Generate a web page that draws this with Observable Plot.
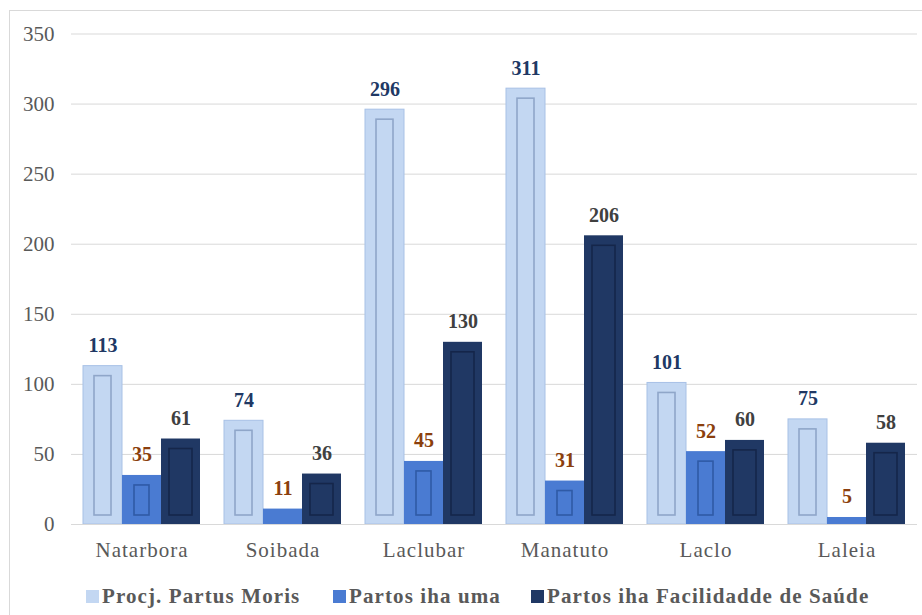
<!DOCTYPE html>
<html>
<head>
<meta charset="utf-8">
<script src="https://cdn.jsdelivr.net/npm/d3@7"></script>
<script src="https://cdn.jsdelivr.net/npm/@observablehq/plot@0.6"></script>
<style>
  html, body { margin: 0; padding: 0; background: #fff; width: 922px; height: 615px; overflow: hidden; }
  #frame { position: absolute; left: 9px; top: 10px; width: 940px; height: 640px; border: 1px solid #d9d9d9; box-sizing: border-box; }
  #chart { position: absolute; left: 0; top: 0; }
  .leg { position: absolute; top: 584px; font-family: 'Liberation Serif', serif; font-weight: bold; font-size: 21px; letter-spacing: 1.1px; color: #595959; white-space: nowrap; display: flex; align-items: center; }
  .sw { width: 13px; height: 13px; display: inline-block; margin-right: 3px; }
</style>
</head>
<body>
<div id="frame"></div>
<div id="chart"></div>
<div id="legend"></div>
<script>
const categories = ["Natarbora", "Soibada", "Laclubar", "Manatuto", "Laclo", "Laleia"];
const seriesNames = ["Procj. Partus Moris", "Partos iha uma", "Partos iha Facilidadde de Saúde"];
const procjPartusMoris = [113, 74, 296, 311, 101, 75];
const partosIhaUma = [35, 11, 45, 31, 52, 5];
const partosIhaFacilidade = [61, 36, 130, 206, 60, 58];
const yTicks = [0, 50, 100, 150, 200, 250, 300, 350];

const FONT = "'Liberation Serif', serif";
const barColors = ["#c3d7f2", "#4a7bd2", "#203864"];
const innerStroke = ["#8fa6c9", "#2f5aa6", "#15264a"];
const innerInset = [11, 12, 8];
const labelColors = ["#203864", "#8b3f0d", "#404040"];

const seriesValues = [procjPartusMoris, partosIhaUma, partosIhaFacilidade];
const rows = [];
seriesNames.forEach((s, si) => {
  categories.forEach((c, ci) => rows.push({cat: c, series: s, si, value: seriesValues[si][ci]}));
});

const marks = [];
seriesNames.forEach((s, si) => {
  const d = rows.filter(r => r.si === si);
  marks.push(Plot.barY(d, {fx: "cat", x: "series", y: "value", fill: barColors[si],
    stroke: si === 0 ? "#a8c1e6" : "none", strokeWidth: 1}));
  marks.push(Plot.barY(d.filter(r => r.value >= 20), {fx: "cat", x: "series", y: "value",
    fill: "none", stroke: innerStroke[si], strokeWidth: 1.6,
    insetLeft: innerInset[si], insetRight: innerInset[si], insetTop: 10, insetBottom: 9}));
  marks.push(Plot.text(d, {fx: "cat", x: "series", y: "value", text: r => String(r.value),
    fill: labelColors[si], fontWeight: "bold", fontSize: 20, fontFamily: FONT, lineAnchor: "bottom", dy: -14}));
});
marks.push(Plot.ruleY([0], {stroke: "#d9d9d9"}));

const chart = Plot.plot({
  width: 922,
  height: 572,
  marginLeft: 71,
  marginRight: 5,
  marginTop: 33.5,
  marginBottom: 48,
  style: {fontFamily: FONT, fontSize: "21px", color: "#595959", background: "transparent"},
  fx: {domain: categories, padding: 0, label: null, tickSize: 0, tickPadding: 18, axis: "bottom"},
  x: {domain: seriesNames, axis: null, paddingInner: 0, paddingOuter: 0.265},
  y: {domain: [0, 350], ticks: yTicks, grid: true, label: null, tickSize: 0, tickPadding: 17},
  marks
});
chart.querySelectorAll("[aria-label='fx-axis tick label'] text, [aria-label='fx-axis'] text").forEach(t => t.setAttribute("letter-spacing", "1"));
chart.querySelectorAll("[aria-label='y-grid'] line, [aria-label='y-axis grid'] line").forEach(l => { l.setAttribute("stroke", "#d9d9d9"); l.setAttribute("stroke-opacity", "1"); });
document.getElementById("chart").appendChild(chart);

const legendLeft = [86, 333, 531];
const leg = document.getElementById("legend");
seriesNames.forEach((s, i) => {
  const item = document.createElement("div");
  item.className = "leg";
  item.style.left = legendLeft[i] + "px";
  const sw = document.createElement("span");
  sw.className = "sw";
  sw.style.background = barColors[i];
  const t = document.createElement("span");
  t.textContent = s;
  item.appendChild(sw);
  item.appendChild(t);
  leg.appendChild(item);
});
</script>
</body>
</html>
